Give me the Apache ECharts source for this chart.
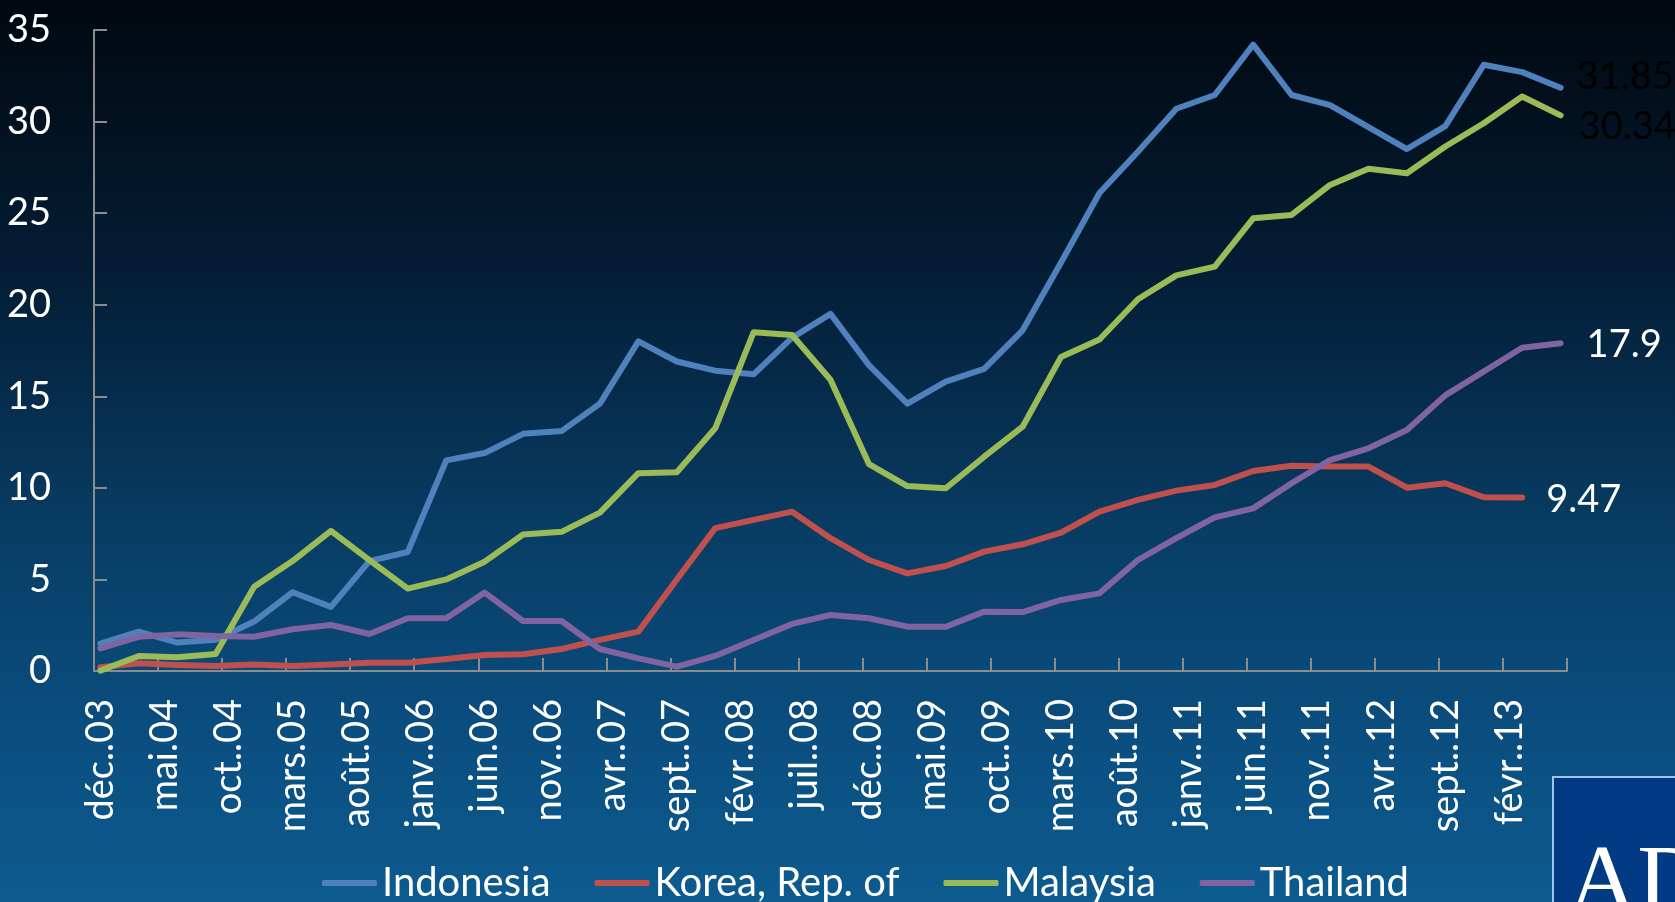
<!DOCTYPE html>
<html>
<head>
<meta charset="utf-8">
<script src="https://cdn.jsdelivr.net/npm/echarts@6/dist/echarts.min.js"></script>
<style>
  html, body { margin: 0; padding: 0; width: 1675px; height: 902px; overflow: hidden; background: #020912; }
  #chart { width: 1675px; height: 902px; }
</style>
</head>
<body>
<div id="chart"></div>
<script>
// French month abbreviations for the "mmm.yy" axis labels
const monthNames = ['janv.', 'févr.', 'mars', 'avr.', 'mai', 'juin', 'juil.', 'août', 'sept.', 'oct.', 'nov.', 'déc.'];

// Monthly category axis from déc. 2003 to juin 2013; data points are quarterly
const startYear = 2003;
const startMonth = 11;   // December (0-based)
const monthCount = 115;
const stepMonths = 3;

const categories = [];
for (let k = 0; k < monthCount; k++) {
  const m = (startMonth + k) % 12;
  const y = startYear + Math.floor((startMonth + k) / 12);
  categories.push(monthNames[m] + '.' + String(y % 100).padStart(2, '0'));
}

// Quarterly values, déc.03 onwards
const indonesia = [1.5, 2.15, 1.55, 1.7, 2.7, 4.3, 3.5, 6.0, 6.5, 11.5, 11.9, 12.95, 13.1, 14.6, 18.0, 16.9, 16.4, 16.2, 18.2, 19.5,
  16.7, 14.6, 15.8, 16.5, 18.6, 22.3, 26.1, 28.35, 30.7, 31.45, 34.2, 31.45, 30.9, 29.7, 28.5, 29.75, 33.1, 32.7, 31.85];
const korea = [0.2, 0.42, 0.33, 0.27, 0.36, 0.27, 0.36, 0.45, 0.45, 0.66, 0.87, 0.91, 1.2, 1.7, 2.15, 5.0, 7.8, 8.25, 8.7, 7.25,
  6.06, 5.33, 5.73, 6.52, 6.92, 7.55, 8.7, 9.34, 9.85, 10.16, 10.92, 11.21, 11.16, 11.16, 10.01, 10.25, 9.49, 9.47];
const malaysia = [0.02, 0.82, 0.75, 0.93, 4.6, 6.0, 7.65, 6.05, 4.5, 5.0, 5.97, 7.45, 7.6, 8.65, 10.8, 10.85, 13.25, 18.5, 18.35, 15.9,
  11.3, 10.1, 9.98, 11.7, 13.34, 17.15, 18.1, 20.3, 21.6, 22.08, 24.72, 24.9, 26.54, 27.42, 27.18, 28.64, 29.91, 31.37, 30.34];
const thailand = [1.24, 1.87, 2.0, 1.91, 1.87, 2.28, 2.51, 2.02, 2.88, 2.88, 4.28, 2.73, 2.73, 1.2, 0.69, 0.24, 0.82, 1.69, 2.57, 3.06,
  2.88, 2.42, 2.42, 3.24, 3.22, 3.88, 4.24, 6.06, 7.25, 8.39, 8.88, 10.25, 11.52, 12.16, 13.16, 15.05, 16.35, 17.65, 17.9];

const seriesNames = ['Indonesia', 'Korea, Rep. of', 'Malaysia', 'Thailand'];
const seriesColors = ['#4f81bd', '#c0504d', '#9bbb59', '#8064a2'];

const FONT = 'Lato';
const AXIS_GREY = '#8c8c8c';

function toPoints(values) {
  return values.map((v, i) => [i * stepMonths, v]);
}

function lineSeries(idx, values, labelColor, labelOffset) {
  return {
    name: seriesNames[idx],
    type: 'line',
    data: toPoints(values),
    symbol: 'none',
    z: 2 + idx,
    lineStyle: { color: seriesColors[idx], width: 6, cap: 'round', join: 'round' },
    itemStyle: { color: seriesColors[idx] },
    endLabel: {
      show: true,
      formatter: p => String(p.value[1]),
      color: labelColor,
      fontFamily: FONT,
      fontSize: 38,
      distance: 0,
      offset: labelOffset
    },
    emphasis: { disabled: true },
    animation: false
  };
}

const chart = echarts.init(document.getElementById('chart'));
chart.setOption({
  animation: false,
  backgroundColor: {
    type: 'linear', x: 0, y: 0, x2: 0, y2: 1,
    colorStops: [
      { offset: 0, color: '#010810' },
      { offset: 0.3, color: '#041d35' },
      { offset: 0.6, color: '#083e66' },
      { offset: 0.8, color: '#0a4d7e' },
      { offset: 1, color: '#0d5b8f' }
    ]
  },
  textStyle: { fontFamily: FONT },
  grid: { left: 94, right: 108, top: 30, bottom: 231, containLabel: false },
  xAxis: {
    type: 'category',
    data: categories,
    boundaryGap: true,
    axisLine: { show: true, lineStyle: { color: AXIS_GREY, width: 2 } },
    axisTick: { show: true, interval: 4, inside: true, length: 13, lineStyle: { color: AXIS_GREY, width: 2 } },
    axisLabel: { interval: 4, rotate: 90, color: '#ffffff', fontFamily: FONT, fontSize: 38, margin: 28 },
    splitLine: { show: false }
  },
  yAxis: {
    type: 'value',
    min: 0, max: 35, interval: 5,
    axisLine: { show: true, lineStyle: { color: AXIS_GREY, width: 2 } },
    axisTick: { show: true, inside: true, length: 13, lineStyle: { color: AXIS_GREY, width: 2 } },
    axisLabel: { color: '#ffffff', fontFamily: FONT, fontSize: 38, margin: 43 },
    splitLine: { show: false }
  },
  legend: {
    left: 322, top: 863,
    padding: 0,
    itemGap: 44,
    itemWidth: 55,
    itemHeight: 6,
    icon: 'roundRect',
    textStyle: { color: '#ffffff', fontFamily: FONT, fontSize: 40, lineHeight: 20 },
    data: seriesNames
  },
  series: [
    lineSeries(0, indonesia, '#000000', [16, -11]),
    lineSeries(1, korea, '#ffffff', [24, 2]),
    lineSeries(2, malaysia, '#000000', [18, 11]),
    lineSeries(3, thailand, '#ffffff', [26, 2])
  ],
  graphic: [
    {
      type: 'rect', left: 1552, top: 776, z: 10,
      shape: { width: 160, height: 160 },
      style: { fill: '#023b84', stroke: '#a3c4e8', lineWidth: 2 }
    },
    {
      type: 'text', left: 1568, top: 838, z: 11,
      style: { text: 'ADB', font: '96px "Liberation Serif"', fill: '#ffffff' }
    }
  ]
});
</script>
</body>
</html>
